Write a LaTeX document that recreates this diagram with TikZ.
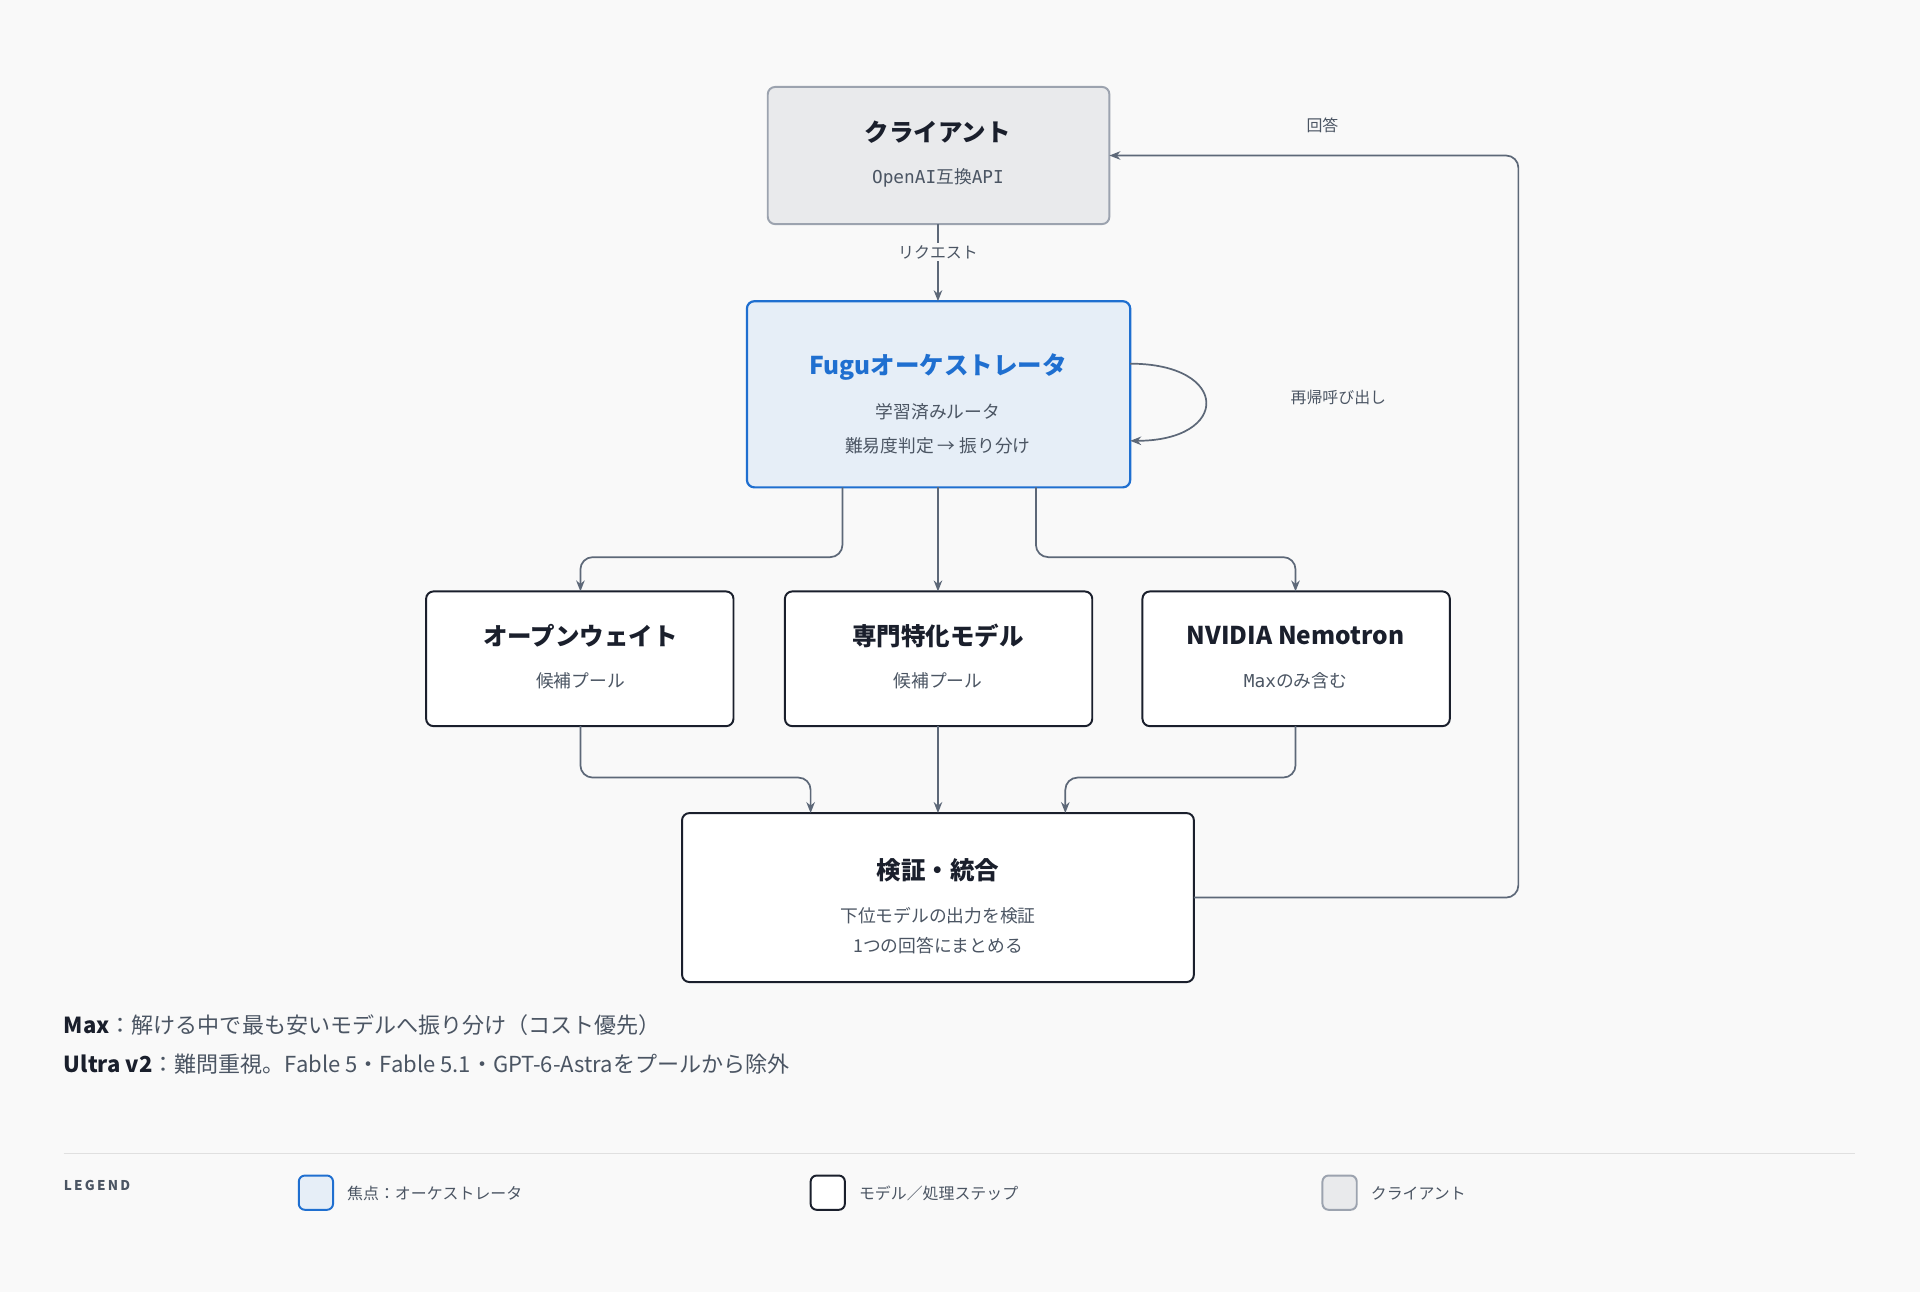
\documentclass[tikz,border=0pt]{standalone}
\usepackage{fontspec}
\setmainfont{Noto Sans CJK JP}
\newfontfamily\mono{DejaVu Sans Mono}
\usetikzlibrary{arrows.meta}
\definecolor{bg}{HTML}{F9F9F9}
\definecolor{ink}{HTML}{1A1F2C}
\definecolor{sub}{HTML}{4B5563}
\definecolor{edge}{HTML}{5D6878}
\definecolor{blue}{HTML}{1F6FD0}
\definecolor{bluefill}{HTML}{E6EEF7}
\definecolor{grayfill}{HTML}{E9EAEC}
\definecolor{grayline}{HTML}{9CA3AF}
\begin{document}
\begin{tikzpicture}[x=1pt,y=-1pt,
 box/.style={draw=ink,line width=1.6pt,rounded corners=6pt,fill=white},
 ttl/.style={font=\fontsize{20}{24}\selectfont\bfseries,text=ink},
 st/.style={font=\fontsize{14.5}{18}\selectfont,text=sub},
 arr/.style={draw=edge,line width=1.4pt,-{Stealth[length=9pt,width=7pt]},rounded corners=10pt},
 lbl/.style={font=\fontsize{13}{16}\selectfont,text=sub}]
\fill[bg] (0,0) rectangle (1568,1055);
\useasboundingbox (0,0) rectangle (1568,1055);
% nodes
\draw[draw=grayline,line width=1.6pt,rounded corners=6pt,fill=grayfill] (627,71) rectangle (906,183);
\node[ttl] (ct) at (766,108) {クライアント};
\node[st] (cs) at (766,145) {{\mono OpenAI}互換{\mono API}};
\coordinate (client) at (766,183);
\draw[draw=blue,line width=1.8pt,rounded corners=6pt,fill=bluefill] (610,246) rectangle (923,398);
\node[ttl,text=blue] (ot) at (766,300) {Fuguオーケストレータ};
\node[st] (o1) at (766,336) {学習済みルータ};
\node[st] (o2) at (766,364) {難易度判定 → 振り分け};
\draw[box] (348,483) rectangle (599,593);
\draw[box] (641,483) rectangle (892,593);
\draw[box] (933,483) rectangle (1184,593);
\node[ttl] (at) at (474,519) {オープンウェイト};
\node[st] (as) at (474,556) {候補プール};
\node[ttl] (bt) at (766,519) {専門特化モデル};
\node[st] (bs) at (766,556) {候補プール};
\node[ttl] (nt) at (1058,519) {NVIDIA Nemotron};
\node[st] (ns) at (1058,556) {{\mono Max}のみ含む};
\draw[box] (557,664) rectangle (975,802);
\node[ttl] (vt) at (766,711) {検証・統合};
\node[st] (v1) at (766,748) {下位モデルの出力を検証};
\node[st] (v2) at (766,772) {1つの回答にまとめる};
% connectors
\draw[arr] (client) -- (766,246);
\node[lbl,fill=bg,inner sep=2pt] (req) at (766,206) {リクエスト};
\draw[arr] (688,398) -- (688,455) -- (474,455) -- (474,483);
\draw[arr] (766,398) -- (766,483);
\draw[arr] (846,398) -- (846,455) -- (1058,455) -- (1058,483);
\draw[arr] (474,593) -- (474,635) -- (662,635) -- (662,664);
\draw[arr] (766,593) -- (766,664);
\draw[arr] (1058,593) -- (1058,635) -- (870,635) -- (870,664);
\draw[arr] (975,733) -- (1240,733) -- (1240,127) -- (906,127);
\node[lbl] (ans) at (1080,102) {回答};
\draw[draw=edge,line width=1.4pt,-{Stealth[length=9pt,width=7pt]}] (923,297) .. controls (1005,297) and (1005,360) .. (923,360);
\node[lbl] (rec) at (1093,325) {再帰呼び出し};
% notes
\node[anchor=west,font=\fontsize{18}{22}\selectfont,text=sub,inner sep=0] (m1) at (52,837) {{\bfseries\color{ink}Max}：解ける中で最も安いモデルへ振り分け（コスト優先）};
\node[anchor=west,font=\fontsize{18}{22}\selectfont,text=sub,inner sep=0] (m2) at (52,869) {{\bfseries\color{ink}Ultra v2}：難問重視。Fable 5・Fable 5.1・GPT-6-Astraをプールから除外};
\draw[draw=black!12,line width=1pt] (52,942) -- (1515,942);
% legend
\node[anchor=west,font=\fontsize{11}{13}\selectfont\bfseries,text=sub,inner sep=0] (lg) at (52,968) {L\,E\,G\,E\,N\,D};
\draw[draw=blue,line width=1.6pt,rounded corners=5pt,fill=bluefill] (244,960) rectangle (272,988);
\node[lbl,anchor=west] (l1) at (280,975) {焦点：オーケストレータ};
\draw[draw=ink,line width=1.6pt,rounded corners=5pt,fill=white] (662,960) rectangle (690,988);
\node[lbl,anchor=west] (l2) at (698,975) {モデル／処理ステップ};
\draw[draw=grayline,line width=1.6pt,rounded corners=5pt,fill=grayfill] (1080,960) rectangle (1108,988);
\node[lbl,anchor=west] (l3) at (1116,975) {クライアント};
\end{tikzpicture}
\end{document}
